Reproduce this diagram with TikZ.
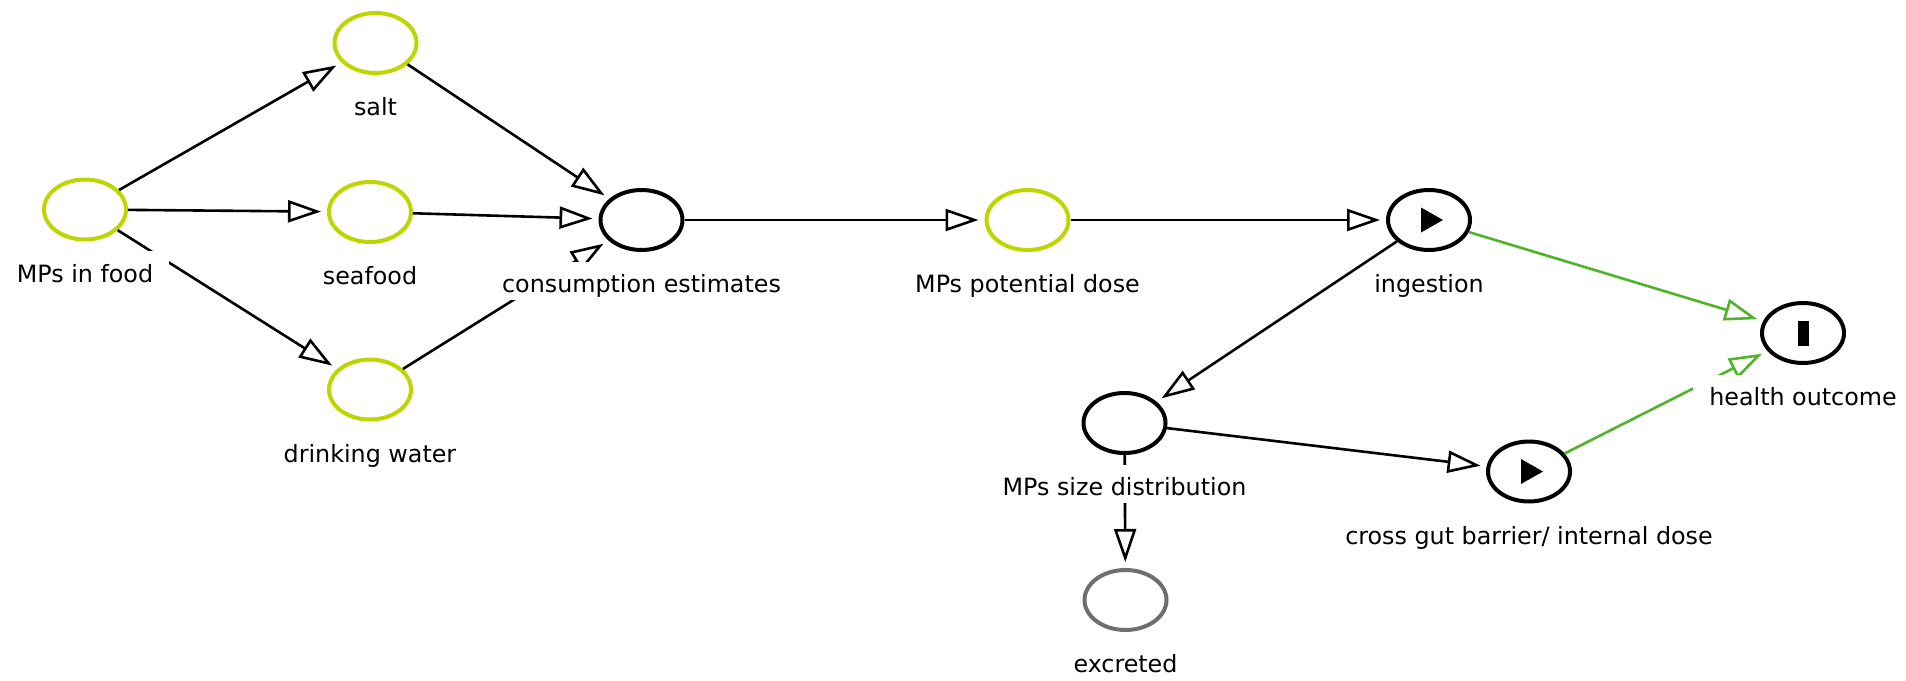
\documentclass[tikz,border=0pt]{standalone}
\usepackage{fontspec}
\setmainfont{DejaVu Sans}
\usetikzlibrary{arrows.meta,shapes.geometric}
\definecolor{varcol}{RGB}{190,214,0}
\definecolor{linkgreen}{RGB}{80,180,40}
\definecolor{greyring}{RGB}{110,110,110}
\begin{document}
\begin{tikzpicture}[x=1pt,y=-1pt,
  var/.style={ellipse, draw, line width=4pt, minimum width=82pt, minimum height=60pt, inner sep=0pt},
  chance/.style={var, draw=varcol},
  decision/.style={var, draw=black},
  outcome/.style={var, draw=greyring},
  lbl/.style={fill=white, inner xsep=16pt, inner ysep=0pt, text height=31pt, text depth=7pt,
              anchor=base, font=\fontsize{23.8}{28}\selectfont},
  link/.style={line width=2.6pt, shorten >=6pt, -{Triangle[length=33pt,width=22pt,fill=white]}},
  plink/.style={link, draw=linkgreen},
]
\useasboundingbox (0,0) rectangle (1906,680);

% variables
\node[chance]   (food)   at (85,209.5)   {};
\node[chance]   (salt)   at (375.5,43)   {};
\node[chance]   (sea)    at (370,212)    {};
\node[chance]   (water)  at (370,389.5)  {};
\node[decision] (cons)   at (641.5,220)  {};
\node[chance]   (dose)   at (1027.5,220) {};
\node[decision] (ingest) at (1429,220)   {};
\node[decision] (health) at (1803,333)   {};
\node[decision] (size)   at (1124.5,423) {};
\node[outcome]  (excr)   at (1125.5,600) {};
\node[decision] (gut)    at (1529,471.5) {};

% links
\draw[link] (food) -- (salt);
\draw[link] (food) -- (sea);
\draw[link] (food) -- (water);
\draw[link] (salt) -- (cons);
\draw[link] (sea) -- (cons);
\draw[link] (water) -- (cons);
\draw[link] (cons) -- (dose);
\draw[link] (dose) -- (ingest);
\draw[link] (ingest) -- (size);
\draw[link] (size) -- (gut);
\draw[link] (size) -- (excr);
\draw[plink] (ingest) -- (health);
\draw[plink] (gut) -- (health);

% labels
\node[lbl] (foodL)   at ([yshift=-72.5pt]food.center)   {MPs in food};
\node[lbl] (saltL)   at ([yshift=-72.5pt]salt.center)   {salt};
\node[lbl] (seaL)    at ([yshift=-72.5pt]sea.center)    {seafood};
\node[lbl] (waterL)  at ([yshift=-72.5pt]water.center)  {drinking water};
\node[lbl] (consL)   at ([yshift=-72.5pt]cons.center)   {consumption estimates};
\node[lbl] (doseL)   at ([yshift=-72.5pt]dose.center)   {MPs potential dose};
\node[lbl, inner xsep=6pt] (ingestL) at ([yshift=-72.5pt]ingest.center) {ingestion};
\node[lbl] (healthL) at ([yshift=-72.5pt]health.center) {health outcome};
\node[lbl] (sizeL)   at ([yshift=-72.5pt]size.center)   {MPs size distribution};
\node[lbl] (excrL)   at ([yshift=-72.5pt]excr.center)   {excreted};
\node[lbl] (gutL)    at ([yshift=-72.5pt]gut.center)    {cross gut barrier/ internal dose};

% state symbols
\begin{scope}[shift={(ingest.center)}]
  \fill (-8,-12.5) -- (-8,12.5) -- (14,0) -- cycle;
\end{scope}
\begin{scope}[shift={(gut.center)}]
  \fill (-8,-12.5) -- (-8,12.5) -- (14,0) -- cycle;
\end{scope}
\begin{scope}[shift={(health.center)}]
  \fill (-5.5,-12.5) rectangle (5.5,12.5);
\end{scope}
\end{tikzpicture}
\end{document}
